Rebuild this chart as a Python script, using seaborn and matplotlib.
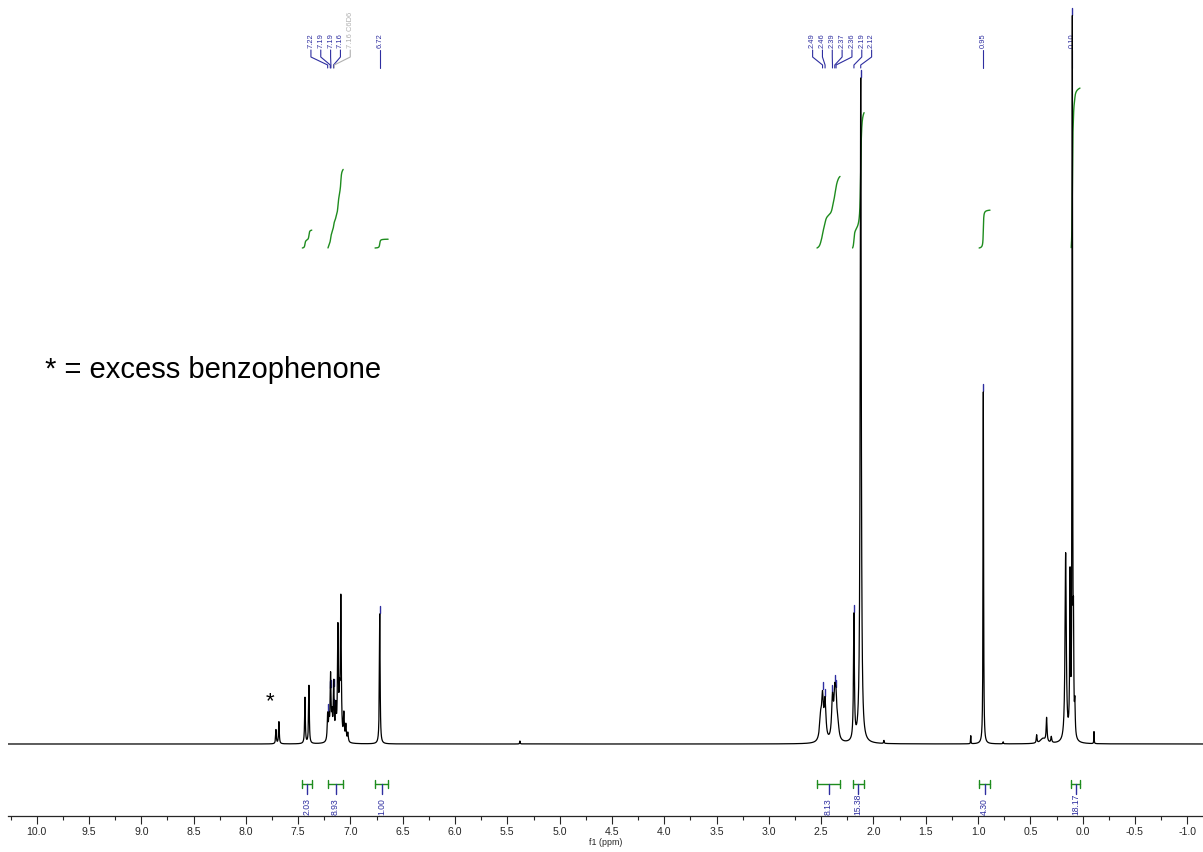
import numpy as np
import pandas as pd
import matplotlib
matplotlib.use("Agg")
import matplotlib.pyplot as plt
from matplotlib.ticker import MultipleLocator, FormatStrFormatter
import seaborn as sns

# ---------------- data ----------------
# 1H spectrum peaks: chemical shift (ppm), height, half-width (ppm)
peak_ppm = [7.712, 7.684, 7.435, 7.397,
            7.218, 7.205, 7.190, 7.176, 7.160, 7.140, 7.120, 7.105, 7.092, 7.063, 7.044, 7.025,
            6.720, 5.380,
            2.505, 2.487, 2.463, 2.392, 2.370, 2.358, 2.340,
            2.187, 2.122, 1.900, 1.070, 0.950, 0.760,
            0.440, 0.380, 0.345, 0.300,
            0.163, 0.121, 0.099, 0.088, 0.075, -0.108]
peak_height = [14, 22, 46, 58,
               26, 20, 64, 22, 56, 30, 110, 35, 140, 26, 16, 9,
               130, 3,
               22, 40, 38, 40, 38, 32, 12,
               125, 665, 3, 8, 352, 2,
               8, 5, 24, 6,
               188, 158, 714, 90, 30, 12]
peak_hwhm = [0.004, 0.004, 0.004, 0.004,
             0.005, 0.005, 0.005, 0.005, 0.005, 0.005, 0.005, 0.005, 0.005, 0.005, 0.005, 0.005,
             0.004, 0.003,
             0.012, 0.010, 0.010, 0.010, 0.010, 0.010, 0.012,
             0.005, 0.006, 0.003, 0.002, 0.003, 0.003,
             0.004, 0.030, 0.005, 0.005,
             0.007, 0.004, 0.003, 0.003, 0.004, 0.002]

# picked peak labels
pick_ppm = [7.218, 7.193, 7.187, 7.162, 7.155, 6.720,
            2.487, 2.463, 2.392, 2.370, 2.358, 2.187, 2.122,
            0.950, 0.099]
pick_text = ["7.22", "7.19", "7.19", "7.16", "7.16 C6D6", "6.72",
             "2.49", "2.46", "2.39", "2.37", "2.36", "2.19", "2.12",
             "0.95", "0.10"]
pick_group = [0, 0, 0, 0, 0, 1, 2, 2, 2, 2, 2, 2, 2, 3, 4]
pick_solvent = [False, False, False, False, True, False,
                False, False, False, False, False, False, False,
                False, False]

# integrals
int_hi = [7.46, 7.215, 6.765, 2.54, 2.20, 0.99, 0.11]
int_lo = [7.37, 7.07, 6.64, 2.32, 2.09, 0.886, 0.026]
int_val = [2.03, 8.93, 1.00, 8.13, 15.38, 4.30, 18.17]

tick_values = np.arange(-1.0, 10.01, 0.5)

# ---------------- style ----------------
sns.set_style("white")
plt.rcParams['font.family'] = ['Liberation Sans', 'DejaVu Sans']
plt.rcParams['axes.unicode_minus'] = False

BLUE = "#2e2ea0"
GREEN = "#1e8c1e"
GRAY = "#b0b0b0"

fig = plt.figure(figsize=(12.03, 8.52), dpi=100)
ax = fig.add_axes([8 / 1203, 36 / 852, 1195 / 1203, 816 / 852])

# build spectrum from peak list
ppm = np.arange(-1.16, 10.29, 0.0002)
spec = np.zeros_like(ppm)
for p, h, w in zip(peak_ppm, peak_height, peak_hwhm):
    spec += h / (1.0 + ((ppm - p) / w) ** 2)
df = pd.DataFrame({"ppm": ppm, "intensity": spec})

sns.lineplot(data=df, x="ppm", y="intensity", ax=ax, color="black",
             lw=0.9, estimator=None, sort=False, zorder=5)

ax.set_xlim(10.274, -1.15)
ax.set_ylim(-72, 744)


def spec_at(x):
    return float(np.interp(x, ppm, spec))


# peak markers
for p in pick_ppm:
    h = spec_at(p)
    ax.plot([p, p], [h + 1, h + 8], color=BLUE, lw=1.0, zorder=4, clip_on=True)

# peak labels with leader lines
slot_spacing = 0.094
group_center = {0: 7.19, 1: None, 2: 2.30, 3: None, 4: None}
groups = {}
for i, g in enumerate(pick_group):
    groups.setdefault(g, []).append(i)
for g, idx in groups.items():
    n = len(idx)
    for k, i in enumerate(idx):
        target = pick_ppm[i]
        if n > 1:
            slot = group_center[g] + ((n - 1) / 2 - k) * slot_spacing
        else:
            slot = target
        col = GRAY if pick_solvent[i] else BLUE
        ax.text(slot, 696, pick_text[i], rotation=90, ha="center", va="bottom",
                fontsize=5.4, color=col, zorder=3, clip_on=False)
        if n > 1:
            ax.plot([slot, slot, target, target], [694, 687, 679, 676],
                    color=col, lw=0.8, zorder=3)
        else:
            ax.plot([slot, slot], [694, 676], color=col, lw=0.8, zorder=3)

# integrals
px_per_unit = 8.8
for lo, hi, v in zip(int_lo, int_hi, int_val):
    m = (ppm >= lo) & (ppm <= hi)
    xs = ppm[m][::-1]
    cum = np.cumsum(spec[m][::-1])
    cum = cum / cum[-1] * v * px_per_unit
    ax.plot(xs, 496 + cum, color=GREEN, lw=1.0, zorder=2)
    # bracket
    mid = (lo + hi) / 2
    ax.plot([hi, lo], [-40, -40], color=GREEN, lw=1.0)
    ax.plot([hi, hi], [-36, -44], color=GREEN, lw=1.0)
    ax.plot([lo, lo], [-36, -44], color=GREEN, lw=1.0)
    ax.plot([mid, mid], [-40, -50], color=BLUE, lw=1.0)
    ax.text(mid, -71, f"{v:.2f}", rotation=90, ha="center", va="bottom",
            fontsize=6.2, color=BLUE, clip_on=True)

# annotations
ax.text(9.92, 374, "* = excess benzophenone", fontsize=21, ha="left",
        va="center", color="black")
ax.text(7.77, 42, "*", fontsize=16, ha="center", va="center", color="black")

# axes
for s in ["left", "right", "top"]:
    ax.spines[s].set_visible(False)
ax.spines["bottom"].set_linewidth(0.9)
ax.set_yticks([])
ax.set_ylabel("")
ax.set_xticks(tick_values)
ax.xaxis.set_major_formatter(FormatStrFormatter("%.1f"))
ax.xaxis.set_minor_locator(MultipleLocator(0.25))
ax.tick_params(axis="x", which="major", labelsize=7.6, length=6, width=0.8,
               direction="out", pad=2, bottom=True)
ax.tick_params(axis="x", which="minor", length=3, width=0.8, direction="out",
               bottom=True)
ax.set_xlabel("f1 (ppm)", fontsize=6.4, labelpad=0.5)

fig.savefig("out.png", dpi=100)
